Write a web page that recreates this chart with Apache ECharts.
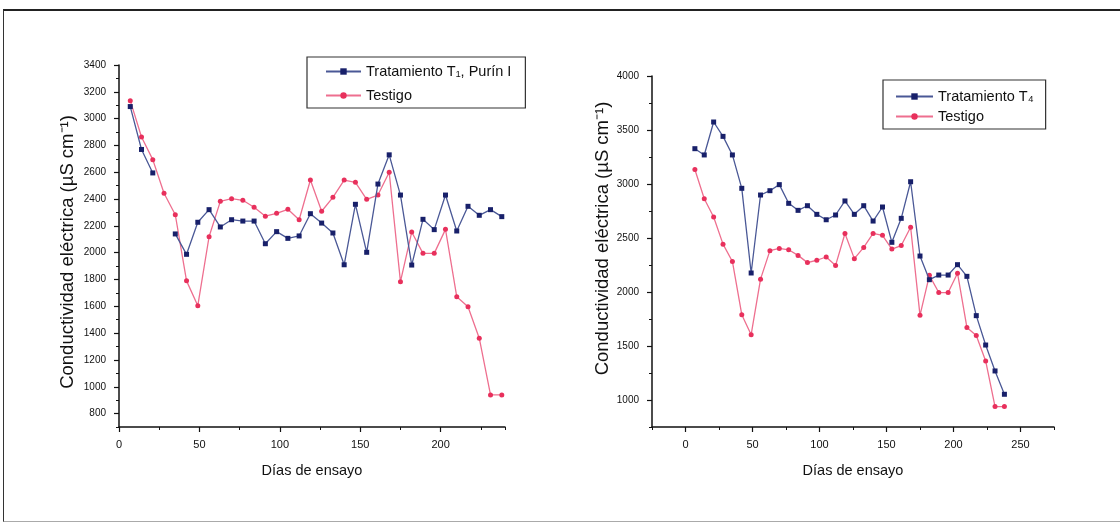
<!DOCTYPE html>
<html><head><meta charset="utf-8">
<script src="https://cdn.jsdelivr.net/npm/echarts@6/dist/echarts.min.js"></script>
<style>
html,body{margin:0;padding:0;background:#fff;}
#frame{position:absolute;left:3px;top:9px;width:1117px;height:513px;border-top:2px solid #222;border-left:1.5px solid #333;border-bottom:1px solid #aaa;box-sizing:border-box;}
#c{position:absolute;left:0;top:0;width:1120px;height:531px;}
</style></head>
<body><div id="frame"></div><div id="c"></div>
<script>
// Days of trial (every 7 days)
const days = [7,14,21,28,35,42,49,56,63,70,77,84,91,98,105,112,119,126,133,140,147,154,161,168,175,182,189,196,203,210,217,224,231,238];
// Tratamiento T1, Purín I (left chart); null = missing
const t1 = [3090,2770,2595,null,2140,1988,2227,2321,2192,2246,2236,2236,2067,2157,2107,2125,2291,2221,2147,1910,2361,2003,2512,2730,2430,1908,2249,2172,2430,2162,2346,2279,2321,2269];
// Testigo (both charts)
const testigo = [3134,2863,2694,2443,2283,1790,1605,2119,2383,2403,2391,2339,2272,2294,2324,2246,2542,2309,2413,2542,2525,2398,2430,2600,1784,2154,1995,1995,2174,1672,1597,1362,939,939];
// Tratamiento T4 (right chart)
const t4 = [3327,3269,3574,3441,3269,2960,2176,2898,2938,2994,2821,2756,2799,2719,2669,2713,2843,2719,2799,2657,2787,2460,2682,3021,2333,2114,2157,2157,2253,2145,1781,1509,1269,1053];

// Tick labels
const leftXTicks = [0,50,100,150,200];
const leftYTicks = [800,1000,1200,1400,1600,1800,2000,2200,2400,2600,2800,3000,3200,3400];
const rightXTicks = [0,50,100,150,200,250];
const rightYTicks = [1000,1500,2000,2500,3000,3500,4000];

const nameT1 = 'Tratamiento T\u2081, Purín I';
const nameT4 = 'Tratamiento T\u2084';
const nameTest = 'Testigo';
const xTitle = 'Días de ensayo';
const yTitle = 'Conductividad eléctrica (µS cm\u207B\u00B9)';

const FONT = '"Liberation Sans", Arial, sans-serif';
const INK = '#111';
const BLUE_L = '#4a5896', BLUE_M = '#18206a', RED_L = '#ee6f8f', RED_M = '#e8305c';

function pairs(vals){ return days.map((d,i)=>[d, vals[i]==null ? '-' : vals[i]]); }
const plain = v => String(v);

function mainAxis(o){
  return Object.assign({
    type:'value', splitLine:{show:false},
    axisLine:{show:true, onZero:false, lineStyle:{color:INK, width:1.5}},
    nameLocation:'middle'
  }, o);
}
function minorAxis(o){
  return Object.assign({
    type:'value', splitLine:{show:false},
    axisLine:{show:false, onZero:false}, axisLabel:{show:false},
    axisTick:{show:true, inside:false, length:3, lineStyle:{color:INK, width:1}}
  }, o);
}
function xLabels(vals){ return {color:INK, fontFamily:FONT, fontSize:11, margin:12, customValues:vals, formatter:plain}; }
function yLabels(vals){ return {color:INK, fontFamily:FONT, fontSize:10, margin:13, customValues:vals, formatter:plain}; }
function majorTicks(vals){ return {show:true, inside:false, length:5, lineStyle:{color:INK, width:1.2}, customValues:vals}; }

const chart = echarts.init(document.getElementById('c'), null, {renderer:'canvas'});
chart.setOption({
  animation:false,
  backgroundColor:'transparent',
  grid:[
    {left:119, top:65, width:386, height:362},
    {left:652, top:76, width:402, height:351}
  ],
  xAxis:[
    mainAxis({gridIndex:0, min:0, max:240, position:'bottom',
      axisLabel:xLabels(leftXTicks), axisTick:majorTicks(leftXTicks),
      name:xTitle, nameGap:36, nameTextStyle:{color:INK, fontFamily:FONT, fontSize:14.5}}),
    minorAxis({gridIndex:0, min:0, max:240, interval:25, position:'bottom'}),
    mainAxis({gridIndex:1, min:-25, max:275, position:'bottom',
      axisLabel:xLabels(rightXTicks), axisTick:majorTicks(rightXTicks),
      name:xTitle, nameGap:36, nameTextStyle:{color:INK, fontFamily:FONT, fontSize:14.5}}),
    minorAxis({gridIndex:1, min:-25, max:275, interval:25, position:'bottom'})
  ],
  yAxis:[
    mainAxis({gridIndex:0, min:700, max:3400, position:'left',
      axisLabel:yLabels(leftYTicks), axisTick:majorTicks(leftYTicks),
      name:yTitle, nameGap:42,
      nameTextStyle:{color:INK, fontFamily:FONT, fontSize:18.5, padding:[0,12,0,0]}}),
    minorAxis({gridIndex:0, min:700, max:3400, interval:100, position:'left'}),
    mainAxis({gridIndex:1, min:750, max:4000, position:'left',
      axisLabel:yLabels(rightYTicks), axisTick:majorTicks(rightYTicks),
      name:yTitle, nameGap:35,
      nameTextStyle:{color:INK, fontFamily:FONT, fontSize:18.5, padding:[0,0,0,26]}}),
    minorAxis({gridIndex:1, min:750, max:4000, interval:250, position:'left'})
  ],
  legend:[
    {data:[nameT1, nameTest], orient:'vertical', left:307, top:57,
     padding:[7,14,5,18], itemGap:9, itemWidth:35, itemHeight:8, itemTextGap:5,
     borderColor:'#333', borderWidth:1.2, selectedMode:false,
     textStyle:{color:INK, fontFamily:FONT, fontSize:14.5}},
    {data:[nameT4, nameTest], orient:'vertical', left:883, top:80,
     padding:[9,12,5,12], itemGap:5, itemWidth:37, itemHeight:8, itemTextGap:6,
     borderColor:'#333', borderWidth:1.2, selectedMode:false,
     textStyle:{color:INK, fontFamily:FONT, fontSize:14.5}}
  ],
  series:[
    {name:nameT1, type:'line', xAxisIndex:0, yAxisIndex:0, data:pairs(t1), connectNulls:false,
     symbol:'rect', symbolSize:5, lineStyle:{color:BLUE_L, width:1.3}, itemStyle:{color:BLUE_M}, z:3},
    {name:nameTest, type:'line', xAxisIndex:0, yAxisIndex:0, data:pairs(testigo),
     symbol:'circle', symbolSize:5, lineStyle:{color:RED_L, width:1.3}, itemStyle:{color:RED_M}, z:2},
    {name:nameT4, type:'line', xAxisIndex:2, yAxisIndex:2, data:pairs(t4),
     symbol:'rect', symbolSize:5, lineStyle:{color:BLUE_L, width:1.3}, itemStyle:{color:BLUE_M}, z:3},
    {name:nameTest, type:'line', xAxisIndex:2, yAxisIndex:2, data:pairs(testigo),
     symbol:'circle', symbolSize:5, lineStyle:{color:RED_L, width:1.3}, itemStyle:{color:RED_M}, z:2}
  ]
});
</script></body></html>
